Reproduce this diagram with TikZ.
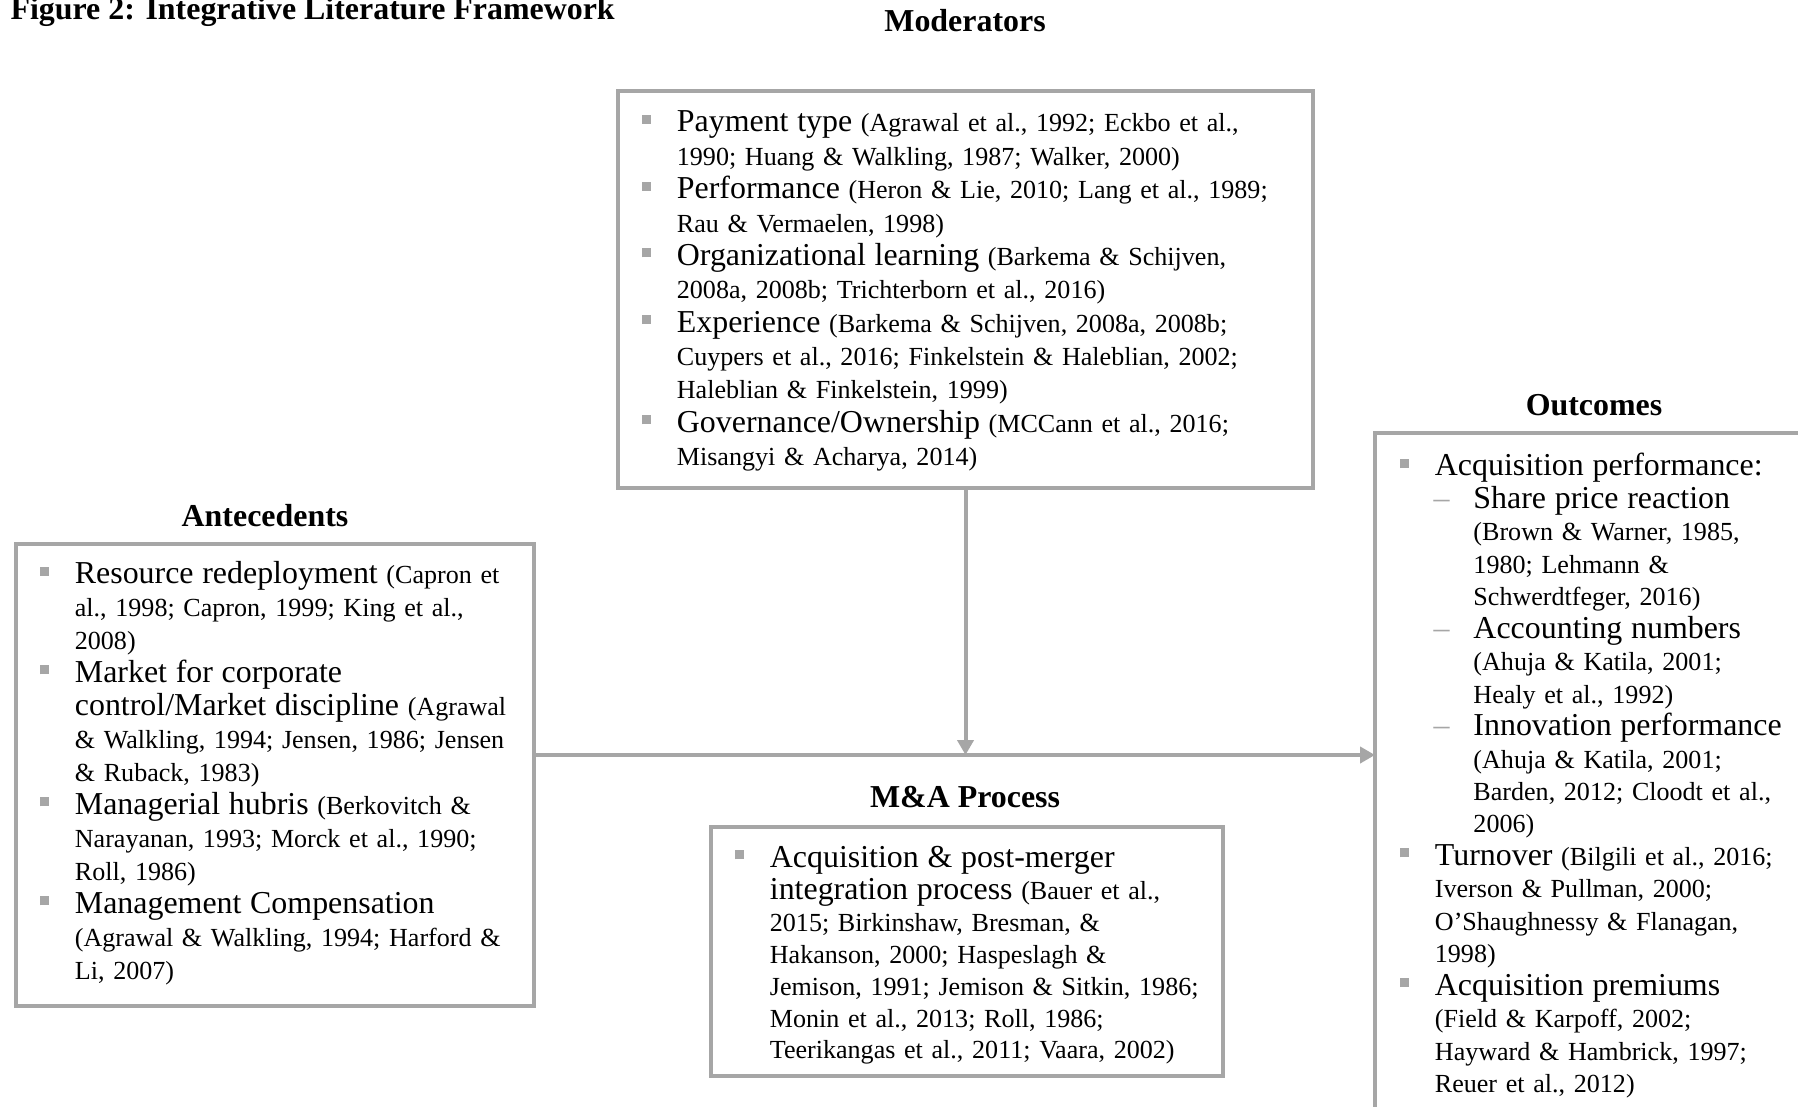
\documentclass[tikz,border=0pt]{standalone}
\usepackage{fontspec}
\setmainfont{Liberation Serif}
\usetikzlibrary{arrows.meta}
\definecolor{linegray}{HTML}{A6A6A6}
\newcommand{\px}{0.376pt}
\newlength{\indA}\setlength{\indA}{13.3pt}
\newlength{\indB}\setlength{\indB}{27.8pt}
\newcommand{\mainsz}{\fontsize{12pt}{\baselineskip}\selectfont}
\newcommand{\sqbullet}{\textcolor{linegray}{\rule[3pt]{3.4pt}{3.4pt}}}
% one bulleted entry: main term, then citations
\newcommand{\litem}[2]{\par\noindent\hangindent=\indA\hangafter=1\makebox[\indA][l]{\sqbullet}{\mainsz #1} #2}
% one dashed sub-entry
\newcommand{\ldash}[2]{\par\noindent\hangindent=\indB\hangafter=1\hspace*{12.8pt}\makebox[\dimexpr\indB-12.8pt\relax][l]{\textcolor{linegray}{\mainsz –}}{\mainsz #1} #2}
\tikzset{
    panel/.style={draw=linegray, line width=1.5pt, inner sep=0pt, outer sep=0pt, anchor=north west},
    head/.style={font=\bfseries\fontsize{12pt}{14pt}\selectfont, anchor=base, inner sep=0pt},
    listtxt/.style={anchor=north west, inner sep=0pt},
    arrow/.style={-{Triangle[length=5.6pt, width=6pt]}, line width=1.5pt, linegray}
}
\begin{document}
\begin{tikzpicture}[x=\px, y=-\px]
    \clip (0,0) rectangle (1798,1106);
    \fill[white] (0,0) rectangle (1798,1106);

    % Title and headings
    \node[head, anchor=base west] (title) at (10,19) {Figure 2: Integrative Literature Framework};
    \node[head] (modhead) at (965,32) {Moderators};
    \node[head] (antehead) at (265,526) {Antecedents};
    \node[head] (mahead) at (965,807) {M\&A Process};
    \node[head] (outchead) at (1594,415) {Outcomes};

    % Frames
    \node[panel, minimum width=695*\px, minimum height=397*\px] (mod) at (618,91) {};
    \node[panel, minimum width=518*\px, minimum height=462*\px] (ante) at (16,544) {};
    \node[panel, minimum width=512*\px, minimum height=249*\px] (ma) at (711,827) {};
    \node[panel, minimum width=500*\px, minimum height=800*\px] (outc) at (1375,433) {};

    % Lists
    \node[listtxt, text width=700*\px, font={\fontsize{9.8pt}{12.55pt}\selectfont}] (modtxt) at (641,98) {%
        \litem{Payment type}{(Agrawal et al., 1992; Eckbo et al.,\newline 1990; Huang \& Walkling, 1987; Walker, 2000)}
        \litem{Performance}{(Heron \& Lie, 2010; Lang et al., 1989;\newline Rau \& Vermaelen, 1998)}
        \litem{Organizational learning}{(Barkema \& Schijven,\newline 2008a, 2008b; Trichterborn et al., 2016)}
        \litem{Experience}{(Barkema \& Schijven, 2008a, 2008b;\newline Cuypers et al., 2016; Finkelstein \& Haleblian, 2002;\newline Haleblian \& Finkelstein, 1999)}
        \litem{Governance/Ownership}{(MCCann et al., 2016;\newline Misangyi \& Acharya, 2014)}\par};
    \node[listtxt, text width=560*\px, font={\fontsize{9.8pt}{12.4pt}\selectfont}] (antetxt) at (39,550) {%
        \litem{Resource redeployment}{(Capron et\newline al., 1998; Capron, 1999; King et al.,\newline 2008)}
        \litem{Market for corporate\newline control/Market discipline}{(Agrawal\newline \& Walkling, 1994; Jensen, 1986; Jensen\newline \& Ruback, 1983)}
        \litem{Managerial hubris}{(Berkovitch \&\newline Narayanan, 1993; Morck et al., 1990;\newline Roll, 1986)}
        \litem{Management Compensation}{\newline (Agrawal \& Walkling, 1994; Harford \&\newline Li, 2007)}\par};
    \node[listtxt, text width=560*\px, font={\fontsize{9.8pt}{12pt}\selectfont}] (matxt) at (734,835) {%
        \litem{Acquisition \& post-merger\newline integration process}{(Bauer et al.,\newline 2015; Birkinshaw, Bresman, \&\newline Hakanson, 2000; Haspeslagh \&\newline Jemison, 1991; Jemison \& Sitkin, 1986;\newline Monin et al., 2013; Roll, 1986;\newline Teerikangas et al., 2011; Vaara, 2002)}\par};
    \node[listtxt, text width=460*\px, font={\fontsize{9.8pt}{12.2pt}\selectfont}] (outctxt) at (1399,443) {%
        \litem{Acquisition performance:}{}
        \ldash{Share price reaction}{\newline (Brown \& Warner, 1985,\newline 1980; Lehmann \&\newline Schwerdtfeger, 2016)}
        \ldash{Accounting numbers}{\newline (Ahuja \& Katila, 2001;\newline Healy et al., 1992)}
        \ldash{Innovation performance}{\newline (Ahuja \& Katila, 2001;\newline Barden, 2012; Cloodt et al.,\newline 2006)}
        \litem{Turnover}{(Bilgili et al., 2016;\newline Iverson \& Pullman, 2000;\newline O’Shaughnessy \& Flanagan,\newline 1998)}
        \litem{Acquisition premiums}{\newline (Field \& Karpoff, 2002;\newline Hayward \& Hambrick, 1997;\newline Reuer et al., 2012)}\par};

    % Connectors
    \coordinate (hub) at (965.5,755);
    \draw[arrow] (mod.south) -- (hub);
    \draw[arrow] (ante.east |- hub) -- (outc.west |- hub);
\end{tikzpicture}
\end{document}
